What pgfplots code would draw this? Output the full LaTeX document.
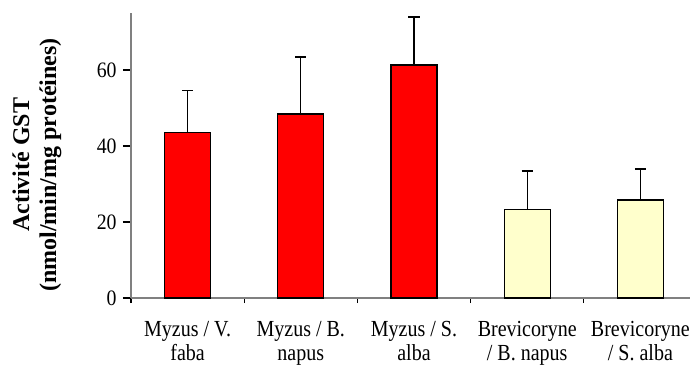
\documentclass[border=0pt]{standalone}
\usepackage{fontspec}
\setmainfont{Liberation Serif}
\usepackage{pgfplots}
\pgfplotsset{compat=1.18}
\definecolor{barred}{RGB}{255,0,0}
\definecolor{baryel}{RGB}{255,255,204}
\definecolor{axgray}{RGB}{128,128,128}
\begin{document}
\begin{tikzpicture}
\begin{axis}[
  at={(0,0)}, anchor=south west,
  scale only axis, width=283pt, height=142.5pt,
  xmin=-0.5, xmax=4.5, ymin=0, ymax=75,
  axis lines=left,
  axis line style={-, draw=axgray, line width=0.7pt},
  tick align=outside,
  ytick={0,20,40,60},
  major tick length=4pt,
  tick style={black, line width=0.6pt},
  xtick={-0.5,0.5,1.5,2.5,3.5,4.5},
  x tick label as interval,
  xticklabels={{Myzus / V.\\faba},{Myzus / B.\\napus},{Myzus / S.\\alba},{Brevicoryne\\/ B. napus},{Brevicoryne\\/ S. alba}},
  xtick style={/pgfplots/major tick length=2.5pt},
  xticklabel style={font=\fontsize{11.5}{12}\selectfont, align=center, xscale=0.87, anchor=north, yshift=-4pt},
  yticklabel style={font=\fontsize{11}{12}\selectfont, xscale=0.9},
  /pgf/number format/assume math mode=true,
  ylabel={Activité GST\\(nmol/min/mg protéines)},
  every axis y label/.style={at={(axis description cs:-0.166,0.467)}, rotate=90, anchor=center, align=center, font=\bfseries\fontsize{12}{13.5}\selectfont},
]
\addplot[ybar, bar width=23pt, fill=barred, draw=black, line width=0.6pt,
  error bars/.cd, y dir=plus, y explicit, error mark=|,
  error bar style={line width=0.7pt, black},
  error mark options={line width=0.7pt, black, mark size=2.75pt}]
  coordinates {(0,43.6) +- (0,11.0) (1,48.4) +- (0,15.0) (2,61.3) +- (0,12.7)};
\addplot[ybar, bar width=23pt, fill=baryel, draw=black, line width=0.6pt,
  error bars/.cd, y dir=plus, y explicit, error mark=|,
  error bar style={line width=0.7pt, black},
  error mark options={line width=0.7pt, black, mark size=2.75pt}]
  coordinates {(3,23.3) +- (0,10.1) (4,25.8) +- (0,8.1)};
\end{axis}
\pgfresetboundingbox
\path[use as bounding box] (-65.5pt,-33.5pt) rectangle (279.5pt,149pt);
\end{tikzpicture}
\end{document}
